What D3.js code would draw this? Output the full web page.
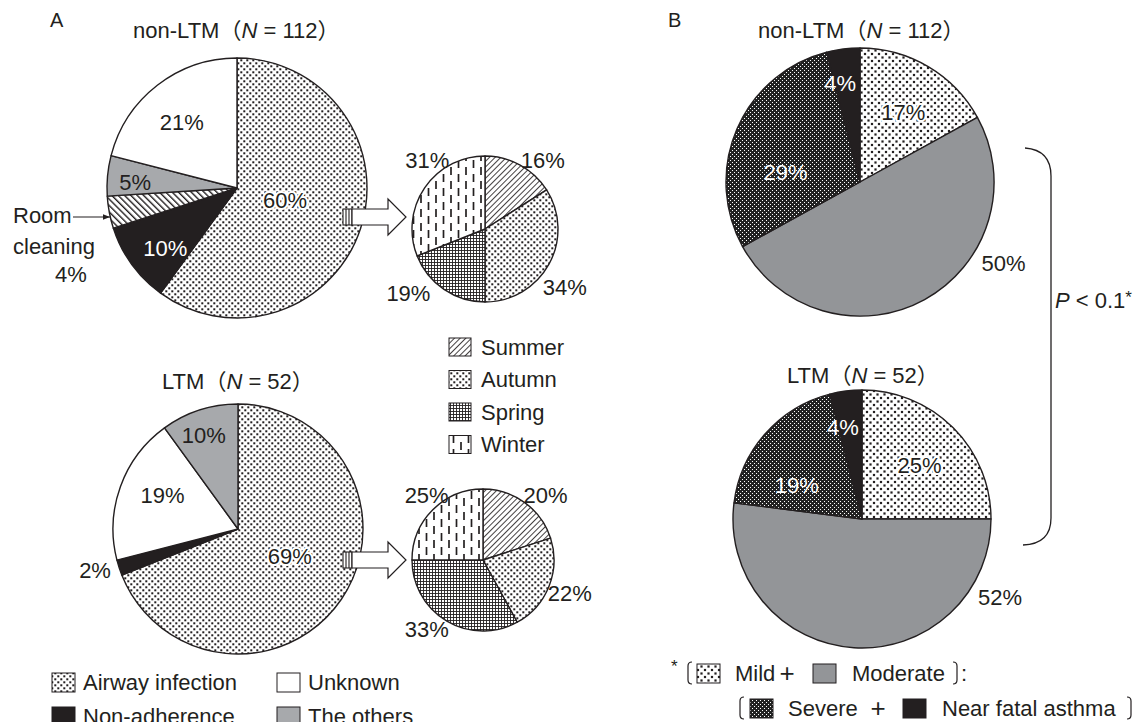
<!DOCTYPE html>
<html><head><meta charset="utf-8">
<script src="https://cdn.jsdelivr.net/npm/d3@7"></script>
<style>
html,body{margin:0;padding:0;background:#fff}
svg{display:block}
text{font-family:"Liberation Sans",Arial,Helvetica,sans-serif;fill:#231f20;font-size:22px}
</style></head><body>
<svg id="chart" width="1146" height="722"></svg>
<script>
// ---- data ----
const causeKeys = ["Airway infection", "Non-adherence", "Room cleaning", "The others", "Unknown"];
const nonLtmCauseOrder = ["Airway infection", "Non-adherence", "Room cleaning", "The others", "Unknown"];
const nonLtmCauseValues = [60, 10, 4, 5, 21];
const ltmCauseOrder = ["Airway infection", "Non-adherence", "Unknown", "The others"];
const ltmCauseValues = [69, 2, 19, 10];

const seasons = ["Summer", "Autumn", "Spring", "Winter"];
const nonLtmSeasonValues = [16, 34, 19, 31];
const ltmSeasonValues = [20, 22, 33, 25];

const severityKeys = ["Mild", "Moderate", "Severe", "Near fatal asthma"];
const nonLtmSeverityValues = [17, 50, 29, 4];
const ltmSeverityValues = [25, 52, 19, 4];

const groupTitles = [["non-LTM", "112"], ["LTM", "52"]];
const pLabel = ["P", " < 0.1", "*"];

// ---- canvas ----
const svg = d3.select("#chart");
const ink = "#231f20";
const defs = svg.append("defs");

function pattern(id, w, h, draw, transform) {
  const p = defs.append("pattern").attr("id", id)
    .attr("patternUnits", "userSpaceOnUse").attr("width", w).attr("height", h);
  if (transform) p.attr("patternTransform", transform);
  draw(p, w, h);
}
const bg = (p, w, h, c) => p.append("rect").attr("width", w).attr("height", h).attr("fill", c || "#fff");

pattern("p-dots", 6, 6, (p, w, h) => {
  bg(p, w, h);
  [[0.3, 0.3], [3.3, 3.3]].forEach(([x, y]) =>
    p.append("rect").attr("x", x).attr("y", y).attr("width", 2).attr("height", 2).attr("fill", ink));
});
pattern("p-dots-wide", 7, 7, (p, w, h) => {
  bg(p, w, h);
  [[0.4, 0.4], [3.9, 3.9]].forEach(([x, y]) =>
    p.append("rect").attr("x", x).attr("y", y).attr("width", 2.2).attr("height", 2.2).attr("fill", ink));
});
pattern("p-severe", 4, 4, (p, w, h) => {
  bg(p, w, h, "#222");
  [[0, 0], [2, 2]].forEach(([x, y]) =>
    p.append("rect").attr("x", x).attr("y", y).attr("width", 1).attr("height", 1).attr("fill", "#fff"));
});
pattern("p-grid", 3, 3, (p, w, h) => {
  bg(p, w, h);
  p.append("path").attr("d", "M0,0.5H3M0.5,0V3").attr("stroke", ink).attr("stroke-width", 0.9);
});
pattern("p-summer", 4, 4, (p, w, h) => {
  bg(p, w, h);
  p.append("line").attr("x1", 0.5).attr("x2", 0.5).attr("y1", 0).attr("y2", 4).attr("stroke", ink).attr("stroke-width", 0.85);
}, "rotate(45)");
pattern("p-room", 4.5, 4.5, (p, w, h) => {
  bg(p, w, h);
  p.append("line").attr("x1", 0.7).attr("x2", 0.7).attr("y1", 0).attr("y2", 4.5).attr("stroke", ink).attr("stroke-width", 1.4);
}, "rotate(-45)");
pattern("p-winter", 15, 14, (p, w, h) => {
  bg(p, w, h);
  const dash = (x, y1, y2) => p.append("line").attr("x1", x).attr("x2", x).attr("y1", y1).attr("y2", y2)
    .attr("stroke", ink).attr("stroke-width", 1.7);
  dash(3.5, 1, 9); dash(11, 8, 14); dash(11, 0, 2);
});

const fill = d3.scaleOrdinal()
  .domain([...causeKeys, ...seasons, ...severityKeys])
  .range([
    "url(#p-dots)", ink, "url(#p-room)", "#a7a9ac", "#ffffff",
    "url(#p-summer)", "url(#p-dots)", "url(#p-grid)", "url(#p-winter)",
    "url(#p-dots-wide)", "#939598", "url(#p-severe)", ink
  ]);

// ---- pie layouts: centre, radius, label placement [angle°, radius factor, style] ----
const pieLayouts = [
  { cx: 237, cy: 188, r: 130, keys: nonLtmCauseOrder, values: nonLtmCauseValues,
    labels: [[104, 0.38, "halo"], [230, 0.72, "white"], null, [273, 0.785, "plain"], [320, 0.66, "plain"]] },
  { cx: 238, cy: 529, r: 125, keys: ltmCauseOrder, values: ltmCauseValues,
    labels: [[118, 0.47, "halo"], [254, 1.19, "plain"], [294, 0.66, "plain"], [340, 0.8, "plain"]] },
  { cx: 485, cy: 229, r: 73, keys: seasons, values: nonLtmSeasonValues,
    labels: [[40, 1.23, "plain"], [126, 1.35, "plain"], [230, 1.37, "plain"], [320, 1.23, "plain"]] },
  { cx: 483, cy: 560, r: 71, keys: seasons, values: ltmSeasonValues,
    labels: [[44, 1.27, "plain"], [111, 1.31, "plain"], [219, 1.26, "plain"], [319, 1.21, "plain"]] },
  { cx: 860, cy: 182, r: 134, keys: severityKeys, values: nonLtmSeverityValues,
    labels: [[32, 0.61, "halo"], [119.5, 1.23, "plain"], [277.6, 0.56, "white"], [348.6, 0.75, "white"]] },
  { cx: 862, cy: 519, r: 129, keys: severityKeys, values: ltmSeverityValues,
    labels: [[47, 0.61, "halo"], [119.5, 1.23, "plain"], [297.6, 0.57, "white"], [348.3, 0.73, "white"]] }
];

function styleLabel(t, style) {
  if (style === "white") t.style("fill", "#fff");
  if (style === "halo") t.attr("stroke", "#fff").attr("stroke-width", 4)
    .attr("stroke-linejoin", "round").attr("paint-order", "stroke");
}

pieLayouts.forEach(cfg => {
  const g = svg.append("g").attr("transform", `translate(${cfg.cx},${cfg.cy})`);
  const data = cfg.keys.map((k, i) => ({ key: k, value: cfg.values[i], label: cfg.labels[i] }));
  const arcs = d3.pie().sort(null).value(d => d.value)(data);
  const arc = d3.arc().innerRadius(0).outerRadius(cfg.r);
  g.selectAll("path").data(arcs).join("path")
    .attr("d", arc)
    .attr("fill", d => fill(d.data.key))
    .attr("stroke", ink).attr("stroke-width", 1.4).attr("stroke-linejoin", "round");
  arcs.filter(d => d.data.label).forEach(d => {
    const [ang, k, style] = d.data.label;
    const a = ang * Math.PI / 180;
    const t = g.append("text")
      .attr("x", Math.sin(a) * k * cfg.r).attr("y", -Math.cos(a) * k * cfg.r)
      .attr("dy", "0.35em").attr("text-anchor", "middle")
      .text(d.data.value + "%");
    styleLabel(t, style);
  });
});

// ---- room-cleaning callout ----
defs.append("marker").attr("id", "head").attr("viewBox", "0 0 10 10")
  .attr("refX", 10).attr("refY", 5).attr("markerWidth", 7).attr("markerHeight", 7)
  .attr("orient", "auto").attr("markerUnits", "userSpaceOnUse")
  .append("path").attr("d", "M0,1 L10,5 L0,9 Z").attr("fill", ink);
const roomIdx = nonLtmCauseOrder.indexOf("Room cleaning");
const roomWords = nonLtmCauseOrder[roomIdx].split(" ");
svg.append("text").attr("x", 13).attr("y", 223).text(roomWords[0]);
svg.append("text").attr("x", 13).attr("y", 254).text(roomWords[1]);
svg.append("text").attr("x", 71).attr("y", 282).attr("text-anchor", "middle").text(nonLtmCauseValues[roomIdx] + "%");
svg.append("line").attr("x1", 73).attr("x2", 110).attr("y1", 217).attr("y2", 217)
  .attr("stroke", ink).attr("stroke-width", 1.1).attr("marker-end", "url(#head)");

// ---- block arrows linking airway-infection slice to the seasonal pies ----
function blockArrow(x0, y) {
  const g = svg.append("g").attr("transform", `translate(${x0},${y})`);
  g.append("rect").attr("x", 0).attr("y", -8).attr("width", 9).attr("height", 16).attr("fill", "#fff")
    .attr("stroke", ink).attr("stroke-width", 1.1);
  [3, 6].forEach(x => g.append("line").attr("x1", x).attr("x2", x).attr("y1", -8).attr("y2", 8)
    .attr("stroke", ink).attr("stroke-width", 1.1));
  g.append("path").attr("d", "M9,-8 H45 V-18 L63,0 L45,18 V8 H9 Z")
    .attr("fill", "#fff").attr("stroke", ink).attr("stroke-width", 1.2).attr("stroke-linejoin", "miter");
}
blockArrow(343, 217);
blockArrow(343, 560);

// ---- titles ----
function groupTitle(x, y, [name, n]) {
  const t = svg.append("text").attr("x", x).attr("y", y);
  t.append("tspan").text(name);
  t.append("tspan").style("font-family", "'Noto Sans CJK JP'").text("（");
  t.append("tspan").style("font-style", "italic").text("N");
  t.append("tspan").text(" = " + n);
  t.append("tspan").style("font-family", "'Noto Sans CJK JP'").text("）");
}
groupTitle(133, 38, groupTitles[0]);
groupTitle(162, 389, groupTitles[1]);
groupTitle(758, 38, groupTitles[0]);
groupTitle(787, 383, groupTitles[1]);

svg.append("text").attr("x", 50).attr("y", 27).style("font-size", "20px").text("A");
svg.append("text").attr("x", 668).attr("y", 27).style("font-size", "20px").text("B");

// ---- season legend ----
seasons.forEach((s, i) => {
  const y = 347 + i * 32.5;
  svg.append("rect").attr("x", 449).attr("y", y - 9).attr("width", 22).attr("height", 18)
    .attr("fill", fill(s)).attr("stroke", ink).attr("stroke-width", 1);
  svg.append("text").attr("x", 481).attr("y", y).attr("dy", "0.35em").text(s);
});

// ---- cause legend ----
const causeLegend = [["Airway infection", 52, 682], ["Unknown", 277, 682], ["Non-adherence", 52, 716], ["The others", 277, 716]];
causeLegend.forEach(([k, x, y]) => {
  svg.append("rect").attr("x", x).attr("y", y - 9).attr("width", 23).attr("height", 19)
    .attr("fill", fill(k)).attr("stroke", ink).attr("stroke-width", 1);
  svg.append("text").attr("x", x + 31).attr("y", y).attr("dy", "0.35em").text(k);
});

// ---- significance bracket ----
svg.append("path").attr("d", "M1025,148 Q1051,150 1051,176 L1051,518 Q1051,544 1023,545")
  .attr("fill", "none").attr("stroke", ink).attr("stroke-width", 1.3);
const pt = svg.append("text").attr("x", 1055).attr("y", 300).attr("dy", "0.35em");
pt.append("tspan").style("font-style", "italic").text(pLabel[0]);
pt.append("tspan").text(pLabel[1]);
pt.append("tspan").attr("dy", "-0.3em").style("font-size", "17px").text(pLabel[2]);

// ---- severity legend ----
function sqBracket(x, y, dir) {
  const h = 11, k = 4 * dir;
  svg.append("path").attr("d", `M${x + k},${y - h} Q${x},${y - h} ${x},${y - h + 4} V${y + h - 4} Q${x},${y + h} ${x + k},${y + h}`)
    .attr("fill", "none").attr("stroke", ink).attr("stroke-width", 1.2);
}
function legendSwatch(k, x, y) {
  svg.append("rect").attr("x", x).attr("y", y - 9).attr("width", 23).attr("height", 19)
    .attr("fill", fill(k)).attr("stroke", ink).attr("stroke-width", 1);
}
function word(txt, x, y, anchor) {
  return svg.append("text").attr("x", x).attr("y", y).attr("dy", "0.35em")
    .attr("text-anchor", anchor || "start").text(txt);
}
const r1 = 673, r2 = 708;
word("*", 671, r1 - 7).style("font-size", "17px");
sqBracket(688, r1, 1);
legendSwatch(severityKeys[0], 697, r1);
word(severityKeys[0], 735, r1);
word("+", 787, r1, "middle").style("font-size", "26px");
legendSwatch(severityKeys[1], 813, r1);
word(severityKeys[1], 852, r1);
sqBracket(957, r1, -1);
word(":", 961, r1);
sqBracket(740, r2, 1);
legendSwatch(severityKeys[2], 750, r2);
word(severityKeys[2], 788, r2);
word("+", 878, r2, "middle").style("font-size", "26px");
legendSwatch(severityKeys[3], 903, r2);
word(severityKeys[3], 942, r2);
sqBracket(1131, r2, -1);
</script></body></html>
